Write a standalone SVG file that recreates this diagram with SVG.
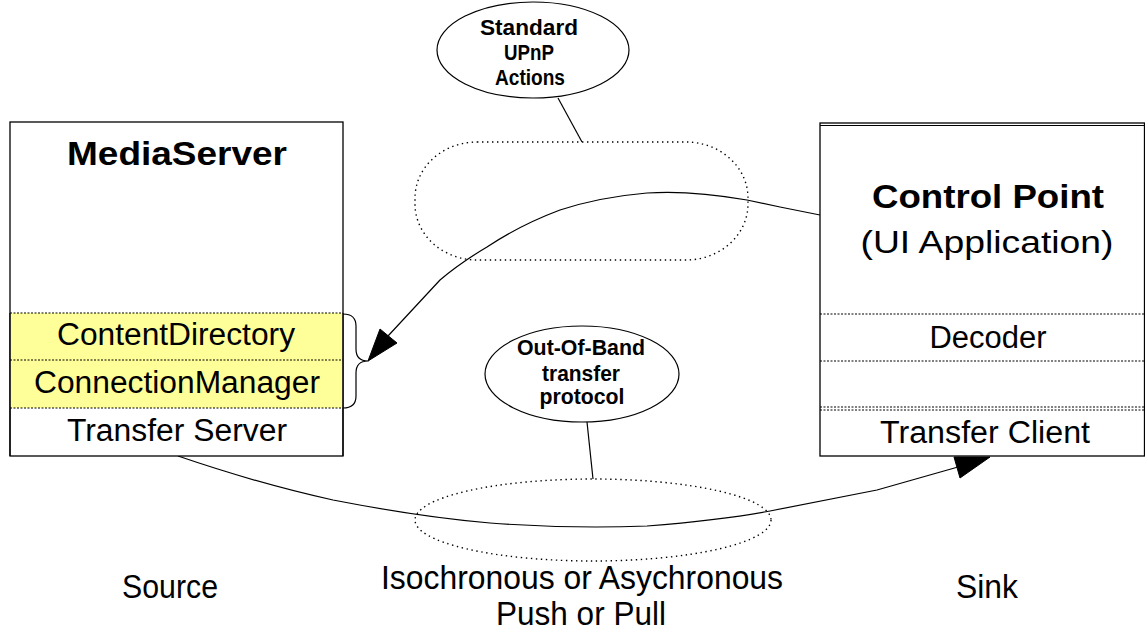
<svg xmlns="http://www.w3.org/2000/svg" width="1145" height="632" viewBox="0 0 1145 632">
<defs>
<style>
.box{fill:#fff;stroke:#000;stroke-width:1.3}
.yel{fill:#ffff99;stroke:none}
.sep{stroke:#000;stroke-width:1;stroke-dasharray:2 1.5;fill:none}
.dot{fill:none;stroke:#000;stroke-width:1.4;stroke-dasharray:1.4 3.6}
.ln{fill:none;stroke:#000;stroke-width:1.2;stroke-linejoin:round}
.ah{fill:#000;stroke:#000;stroke-width:1}
.call{fill:#fff;stroke:#000;stroke-width:1.2}
text{font-family:"Liberation Sans",Arial,sans-serif;fill:#000;text-anchor:middle}
.big{font-size:31px}
.bold{font-weight:bold}
.sm{font-family:"Liberation Sans Narrow","Liberation Sans",Arial,sans-serif;font-size:22px;font-weight:bold}
.nar{font-family:"Liberation Sans Narrow","Liberation Sans",Arial,sans-serif;font-size:33px}
</style>
</defs>
<rect width="1145" height="632" fill="#fff"/>

<g id="connectors">
<path class="ln" d="M820,215 L780,207 L747,200 Q690,190 647,193 Q600,197 560,210 Q520,225 487,247 Q460,263 440,280 L388,336"/>
<polygon class="ah" points="368,361 380,329 397,343"/>
<path class="ln" d="M343,314 Q356,314 356,326 L356,349 Q356,361 368,361 Q356,361 356,373 L356,396 Q356,408 343,408"/>
<path class="ln" d="M178,456 Q260,484 333,500 Q420,517 490,523 Q570,529 647,526 Q723,520 770,511 L877,490 L958,467"/>
<polygon class="ah" points="990,457 954,457 960,478"/>
<line class="ln" x1="558" y1="98" x2="582" y2="142"/>
<line class="ln" x1="587" y1="422" x2="593" y2="479"/>
</g>

<g id="upnp-actions-region">
<rect class="dot" x="415" y="142" width="333" height="118" rx="62" ry="56"/>
</g>
<g id="transfer-region">
<ellipse class="dot" cx="593" cy="520" rx="178" ry="41"/>
</g>

<g id="mediaserver">
<rect class="box" x="10" y="122" width="333" height="334"/>
<rect class="yel" x="10.7" y="313" width="331.6" height="95"/>
<line class="ln" x1="10" y1="313" x2="10" y2="456"/>
<line class="ln" x1="343" y1="313" x2="343" y2="456"/>
<line class="sep" x1="10" y1="313" x2="343" y2="313"/>
<line class="sep" x1="10" y1="360" x2="343" y2="360"/>
<line class="sep" x1="10" y1="408" x2="343" y2="408"/>
<text class="bold" x="177" y="165" font-size="33" textLength="220" lengthAdjust="spacingAndGlyphs">MediaServer</text>
<text class="big" x="176" y="345" textLength="238" lengthAdjust="spacingAndGlyphs">ContentDirectory</text>
<text class="big" x="177" y="393" textLength="286" lengthAdjust="spacingAndGlyphs">ConnectionManager</text>
<text class="big" x="177" y="441" textLength="220" lengthAdjust="spacingAndGlyphs">Transfer Server</text>
</g>

<g id="controlpoint">
<rect class="box" x="820" y="123" width="324.5" height="333"/>
<line class="ln" x1="820" y1="125.5" x2="1145" y2="125.5"/>
<line class="sep" x1="820" y1="314" x2="1145" y2="314"/>
<line class="sep" x1="820" y1="361" x2="1145" y2="361"/>
<line class="sep" x1="820" y1="407" x2="1145" y2="407"/>
<line class="sep" x1="820" y1="410" x2="1145" y2="410"/>
<text class="bold" x="988" y="208" font-size="33" textLength="232" lengthAdjust="spacingAndGlyphs">Control Point</text>
<text class="big" x="987" y="253" font-size="33" textLength="253" lengthAdjust="spacingAndGlyphs">(UI Application)</text>
<text class="big" x="988" y="348" textLength="117" lengthAdjust="spacingAndGlyphs">Decoder</text>
<text class="big" x="985" y="443" textLength="210" lengthAdjust="spacingAndGlyphs">Transfer Client</text>
</g>

<g id="standard-upnp-actions">
<ellipse class="call" cx="533" cy="50" rx="96" ry="48"/>
<text class="sm" x="529" y="35" textLength="98" lengthAdjust="spacingAndGlyphs">Standard</text>
<text class="sm" x="529" y="60" textLength="50" lengthAdjust="spacingAndGlyphs">UPnP</text>
<text class="sm" x="530" y="85" textLength="70" lengthAdjust="spacingAndGlyphs">Actions</text>
</g>

<g id="out-of-band">
<ellipse class="call" cx="582" cy="374" rx="97" ry="48"/>
<text class="sm" x="581" y="355" textLength="128" lengthAdjust="spacingAndGlyphs">Out-Of-Band</text>
<text class="sm" x="581" y="381" textLength="78" lengthAdjust="spacingAndGlyphs">transfer</text>
<text class="sm" x="582" y="404" textLength="85" lengthAdjust="spacingAndGlyphs">protocol</text>
</g>

<g id="labels">
<text class="nar" x="170" y="598" textLength="96" lengthAdjust="spacingAndGlyphs">Source</text>
<text class="nar" x="582" y="589" textLength="402" lengthAdjust="spacingAndGlyphs">Isochronous or Asychronous</text>
<text class="nar" x="581" y="625" textLength="170" lengthAdjust="spacingAndGlyphs">Push or Pull</text>
<text class="nar" x="987" y="598" textLength="62" lengthAdjust="spacingAndGlyphs">Sink</text>
</g>
</svg>
